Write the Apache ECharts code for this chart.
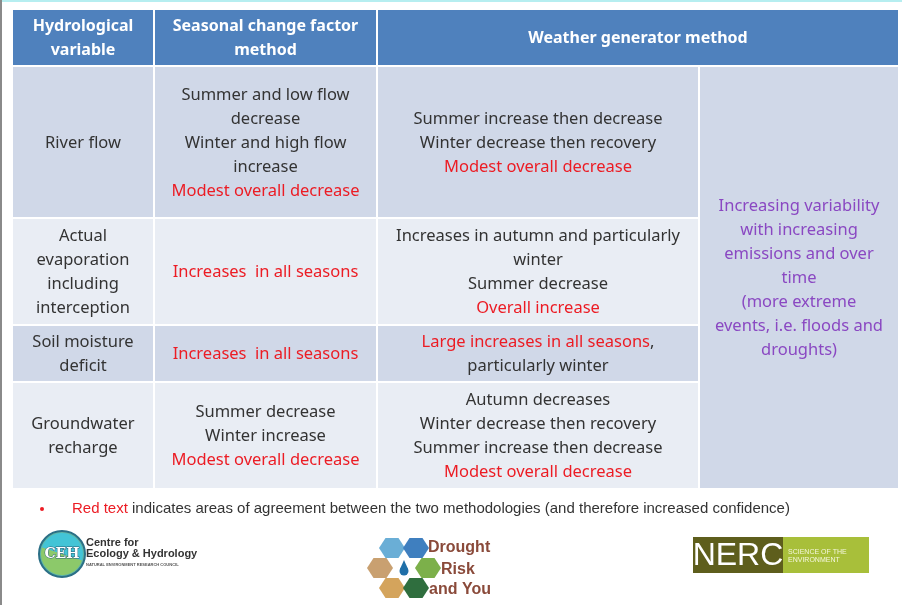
<!DOCTYPE html>
<html>
<head>
<meta charset="utf-8">
<title>Hydrological variables</title>
<script src="https://cdn.jsdelivr.net/npm/echarts@6/dist/echarts.min.js"></script>
<style>
  html, body { margin: 0; padding: 0; background: #fff; }
  #main { width: 902px; height: 605px; }
</style>
</head>
<body>
<div id="main"></div>
<script>
// header texts
var headers = ['Hydrological\nvariable', 'Seasonal change factor\nmethod', 'Weather generator method'];
// row labels (first column)
var rowLabels = [
  'River flow',
  'Actual\nevaporation\nincluding\ninterception',
  'Soil moisture\ndeficit',
  'Groundwater\nrecharge'
];
// seasonal change factor method ({r|..} = red text)
var seasonalCells = [
  'Summer and low flow\ndecrease\nWinter and high flow\nincrease\n{r|Modest overall decrease}',
  '{r|Increases  in all seasons}',
  '{r|Increases  in all seasons}',
  'Summer decrease\nWinter increase\n{r|Modest overall decrease}'
];
// weather generator method
var generatorCells = [
  'Summer increase then decrease\nWinter decrease then recovery\n{r|Modest overall decrease}',
  'Increases in autumn and particularly\nwinter\nSummer decrease\n{r|Overall increase}',
  '{r|Large increases in all seasons}{d|,}\nparticularly winter',
  'Autumn decreases\nWinter decrease then recovery\nSummer increase then decrease\n{r|Modest overall decrease}'
];
// merged right column
var variabilityNote = 'Increasing variability\nwith increasing\nemissions and over\ntime\n(more extreme\nevents, i.e. floods and\ndroughts)';
var footnoteRed = 'Red text';
var footnoteRest = ' indicates areas of agreement between the two methodologies (and therefore increased confidence)';

// layout
var colX = [13, 155, 378, 700, 898];
var headY = [10, 65];
var rowY = [67, 219, 326, 383, 488];
var rowFill = ['#d0d8e8', '#e9edf4', '#d0d8e8', '#e9edf4'];
var gap = 2;
var FONT = '"Noto Sans", "Open Sans", sans-serif';
var SIZE = 16.5;
var red = '#ec1c24';
var dark = '#333333';
var purple = '#8a48c2';
var rich = {
  r: { fill: red, color: red, fontSize: SIZE, fontFamily: FONT, lineHeight: 24 },
  d: { fill: dark, color: dark, fontSize: SIZE, fontFamily: FONT, lineHeight: 24 }
};

function cellText(txt, x, y, color, bold, size) {
  size = size || SIZE;
  return {
    type: 'text',
    x: x, y: y,
    style: {
      text: txt,
      fill: color,
      font: (bold ? 'bold ' : '') + size + 'px ' + FONT,
      fontSize: size,
      fontFamily: FONT,
      fontWeight: bold ? 'bold' : 'normal',
      lineHeight: 24,
      align: 'center', textAlign: 'center',
      verticalAlign: 'middle', textVerticalAlign: 'middle',
      rich: rich
    },
    z: 10
  };
}

var els = [];
// frame of the original picture
els.push({ type: 'rect', shape: { x: 0, y: 0, width: 902, height: 2 }, style: { fill: '#b6eef0' } });
els.push({ type: 'rect', shape: { x: 0, y: 0, width: 2, height: 605 }, style: { fill: '#8a8a8a' } });

// header
var hdrSpans = [[0, 1], [1, 2], [2, 4]];
hdrSpans.forEach(function (s, i) {
  var x0 = colX[s[0]], x1 = colX[s[1]] - (s[1] < 4 ? gap : 0);
  els.push({ type: 'rect', shape: { x: x0, y: headY[0], width: x1 - x0, height: headY[1] - headY[0] }, style: { fill: '#4f81bd' } });
  els.push(cellText(headers[i], (x0 + x1) / 2, (headY[0] + headY[1]) / 2 + 1, '#ffffff', true, 16));
});

// body rows
for (var r = 0; r < rowLabels.length; r++) {
  var y0 = rowY[r], y1 = rowY[r + 1] - (r < 3 ? gap : 0);
  var cols = [rowLabels[r], seasonalCells[r], generatorCells[r]];
  for (var c = 0; c < 3; c++) {
    var x0 = colX[c], x1 = colX[c + 1] - gap;
    els.push({ type: 'rect', shape: { x: x0, y: y0, width: x1 - x0, height: y1 - y0 }, style: { fill: rowFill[r] } });
    els.push(cellText(cols[c], (x0 + x1) / 2, (y0 + y1) / 2 + 1, dark, false));
  }
}
// merged last column
els.push({ type: 'rect', shape: { x: colX[3], y: rowY[0], width: colX[4] - colX[3], height: rowY[4] - rowY[0] }, style: { fill: '#d0d8e8' } });
els.push(cellText(variabilityNote, (colX[3] + colX[4]) / 2, (rowY[0] + rowY[4]) / 2 + 1, purple, false));

// footnote
var NARROW = '"Liberation Sans Narrow", "Liberation Sans", sans-serif';
els.push({ type: 'circle', shape: { cx: 42, cy: 509, r: 2 }, style: { fill: red } });
els.push({
  type: 'text', x: 72, y: 509,
  style: {
    text: '{r|' + footnoteRed + '}{g|' + footnoteRest + '}',
    verticalAlign: 'middle', textVerticalAlign: 'middle',
    rich: {
      r: { fill: red, color: red, fontSize: 15, fontFamily: NARROW },
      g: { fill: '#333', color: '#333', fontSize: 15, fontFamily: NARROW }
    }
  }
});

// CEH logo
els.push({ type: 'circle', shape: { cx: 62, cy: 554, r: 23 }, style: { fill: '#5fb7a8', stroke: '#2b6f86', lineWidth: 2 } });
els.push({ type: 'sector', shape: { cx: 62, cy: 554, r: 21, startAngle: -Math.PI * 0.9, endAngle: Math.PI * 0.1 }, style: { fill: '#43c4d6' } });
els.push({ type: 'sector', shape: { cx: 62, cy: 554, r: 21, startAngle: Math.PI * 0.1, endAngle: Math.PI * 1.1 }, style: { fill: '#8cc96a' } });
els.push({ type: 'text', x: 62, y: 554, style: { text: 'CEH', fill: '#ffffff', stroke: '#2b5f76', lineWidth: 1, font: 'bold 14px "DejaVu Serif", serif', align: 'center', textAlign: 'center', verticalAlign: 'middle', textVerticalAlign: 'middle' } });
els.push({ type: 'text', x: 86, y: 537, style: { text: 'Centre for\nEcology & Hydrology', fill: '#333', font: 'bold 11px "Liberation Sans", sans-serif', lineHeight: 11 } });
els.push({ type: 'text', x: 86, y: 563, style: { text: 'NATURAL ENVIRONMENT RESEARCH COUNCIL', fill: '#555', font: 'bold 4px "Liberation Sans", sans-serif' } });

// Drought Risk and You logo
var hexC = [[392, 548, '#6aaed6'], [416, 548, '#3f7fbf'], [380, 568, '#c9a070'], [428, 568, '#7cb04a'], [392, 588, '#d4a45c'], [416, 588, '#2f6e3e']];
hexC.forEach(function (h) {
  var pts = [];
  for (var k = 0; k < 6; k++) {
    var a = Math.PI / 3 * k;
    pts.push([h[0] + 13 * Math.cos(a), h[1] + 11.5 * Math.sin(a)]);
  }
  els.push({ type: 'polygon', shape: { points: pts }, style: { fill: h[2] } });
});
els.push({ type: 'circle', shape: { cx: 404, cy: 568, r: 10 }, style: { fill: '#ffffff' } });
els.push({ type: 'circle', shape: { cx: 404, cy: 571, r: 4.5 }, style: { fill: '#1f6fa8' } });
els.push({ type: 'polygon', shape: { points: [[400, 569], [408, 569], [404, 560]] }, style: { fill: '#1f6fa8' } });
var DRY = 'bold 16px "Liberation Sans", sans-serif';
els.push({ type: 'text', x: 428, y: 548, style: { text: 'Drought', fill: '#8a4a3a', font: DRY, verticalAlign: 'middle', textVerticalAlign: 'middle' } });
els.push({ type: 'text', x: 441, y: 570, style: { text: 'Risk', fill: '#8a4a3a', font: DRY, verticalAlign: 'middle', textVerticalAlign: 'middle' } });
els.push({ type: 'text', x: 429, y: 590, style: { text: 'and You', fill: '#8a4a3a', font: DRY, verticalAlign: 'middle', textVerticalAlign: 'middle' } });

// NERC logo
els.push({ type: 'rect', shape: { x: 693, y: 537, width: 176, height: 36 }, style: { fill: '#a8bf3a' } });
els.push({ type: 'rect', shape: { x: 693, y: 537, width: 90, height: 36 }, style: { fill: '#5e5e1c' } });
els.push({ type: 'text', x: 738, y: 556, style: { text: 'NERC', fill: '#ffffff', font: '32px ' + NARROW, align: 'center', textAlign: 'center', verticalAlign: 'middle', textVerticalAlign: 'middle' } });
els.push({ type: 'text', x: 788, y: 556, style: { text: 'SCIENCE OF THE\nENVIRONMENT', fill: '#f4f7dc', font: '7px ' + NARROW, lineHeight: 8, verticalAlign: 'middle', textVerticalAlign: 'middle' } });

var chart = echarts.init(document.getElementById('main'), null, { renderer: 'canvas' });
chart.setOption({
  backgroundColor: '#ffffff',
  animation: false,
  graphic: { elements: els }
});
</script>
</body>
</html>
